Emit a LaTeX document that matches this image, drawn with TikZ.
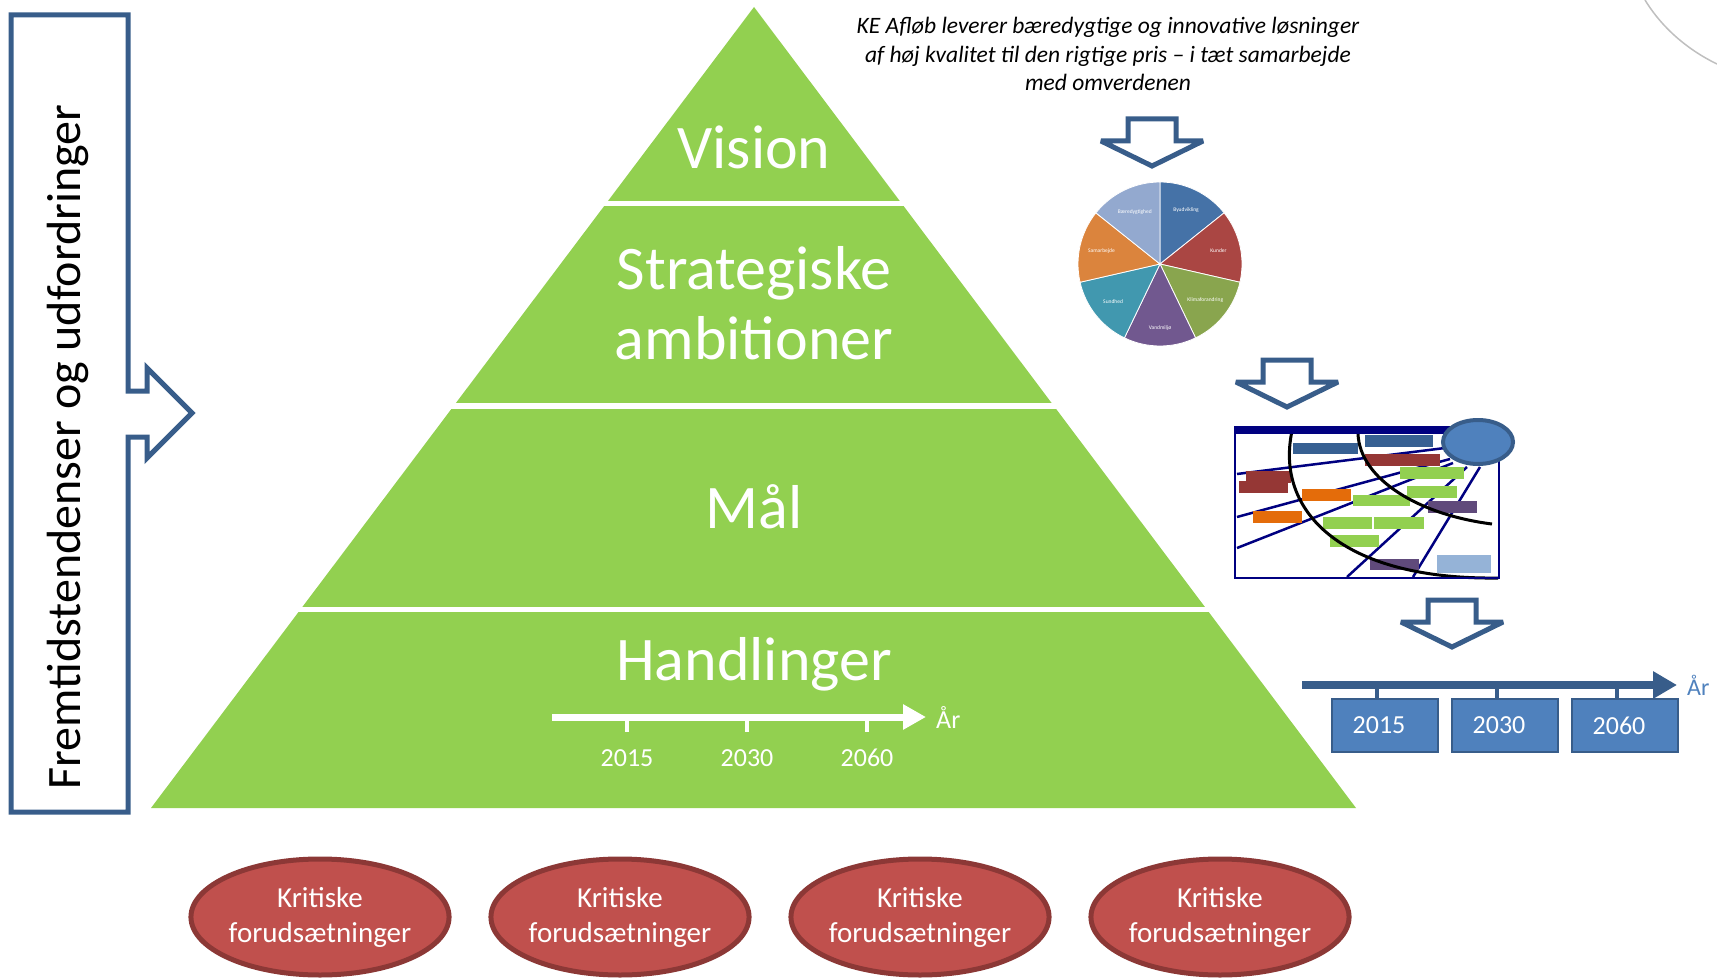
\documentclass[tikz,border=0pt]{standalone}
\usepackage{fontspec}
\setmainfont{Carlito}
\usetikzlibrary{arrows.meta,calc,positioning,shapes.geometric}

\definecolor{pyrgreen}{HTML}{92D050}
\definecolor{darkblue}{HTML}{385D8A}
\definecolor{accblue}{HTML}{4F81BD}
\definecolor{kritfill}{HTML}{C0504D}
\definecolor{kritline}{HTML}{8C3836}
\definecolor{plannavy}{HTML}{000080}
\definecolor{planblue}{HTML}{376092}
\definecolor{planred}{HTML}{953735}
\definecolor{planorange}{HTML}{E46C0A}
\definecolor{planpurple}{HTML}{604A7B}
\definecolor{planlight}{HTML}{95B3D7}
\definecolor{pieA}{HTML}{4572A7}
\definecolor{pieB}{HTML}{AA4643}
\definecolor{pieC}{HTML}{89A54E}
\definecolor{pieD}{HTML}{71588F}
\definecolor{pieE}{HTML}{4198AF}
\definecolor{pieF}{HTML}{DB843D}
\definecolor{pieG}{HTML}{93A9CF}

\tikzset{
  band/.style={text=white,inner sep=0pt,font=\fontsize{62}{70}\selectfont},
  yearw/.style={text=white,inner sep=0pt,font=\fontsize{26}{30}\selectfont},
  wline/.style={white,line width=7pt,-{Triangle[length=23pt,width=24pt]}},
  wtick/.style={white,line width=4pt},
  blockline/.style={darkblue,line width=5pt,line join=miter,miter limit=2,fill=white},
  downblock/.pic={\draw[blockline] (-24,0) -- (24,0) -- (24,22) -- (51,22) -- (0,47) -- (-51,22) -- (-24,22) -- cycle;},
  pieslice/.style={draw=white,line width=0.8pt},
  pielab/.style={text=white,inner sep=0pt,font=\fontsize{5.5}{6}\selectfont},
  baxis/.style={darkblue,line width=8pt,-{Triangle[length=24pt,width=26pt]}},
  stem/.style={darkblue,line width=4pt},
  yearbox/.style={draw=darkblue,fill=accblue,line width=2.5pt,text=white,minimum width=106pt,minimum height=53pt,inner sep=0pt,font=\fontsize{26}{30}\selectfont},
  krit/.style={ellipse,draw=kritline,fill=kritfill,line width=5pt,minimum width=250pt,minimum height=116pt,inner sep=0pt,text=white,align=center,font=\fontsize{29}{35}\selectfont},
  planline/.style={plannavy,line width=2.5pt},
  planarc/.style={black,line width=3pt}
}

\begin{document}
\begin{tikzpicture}[x=1pt,y=-1pt]
\useasboundingbox (0,0) rectangle (1717,979);

\draw[black!25,line width=1.5pt] (1645,0) .. controls (1662,28) and (1688,50) .. (1717,64);

\fill[pyrgreen] (754,7) -- (1356,808) -- (151,808) -- cycle;
\fill[white] (140,201) rectangle (1370,206);
\fill[white] (140,403) rectangle (1370,409);
\fill[white] (140,607) rectangle (1370,612);
\node[band,anchor=base] (vision) at (754,168) {Vision};
\node[band,align=center] (strat) at (754,303) {Strategiske\\ambitioner};
\node[band,anchor=base] (maal) at (754,528) {Mål};
\node[band,anchor=base] (handl) at (754,680) {Handlinger};

\coordinate (hstart) at (552,717);
\coordinate (hend) at (926,717);
\draw[wline] (hstart) -- (hend);
\node[yearw,right=10pt of hend] (haar) {År};
\draw[wtick] (627,717) -- ++(0,15);
\draw[wtick] (747,717) -- ++(0,15);
\draw[wtick] (867,717) -- ++(0,15);
\node[yearw] (h2015) at (627,758) {2015};
\node[yearw] (h2030) at (747,758) {2030};
\node[yearw] (h2060) at (867,758) {2060};

\draw[darkblue,line width=5pt,line join=miter] (11,15) -- (128,15) -- (128,391) -- (147,391) -- (147,368) -- (192,413) -- (147,458) -- (147,437) -- (128,437) -- (128,812) -- (11,812) -- cycle;
\node[rotate=90,inner sep=0pt,font=\fontsize{48}{52}\selectfont] (trend) at (68,447) {Fremtidstendenser og udfordringer};

\node[align=center,inner sep=0pt,font=\itshape\fontsize{23.5}{28.5}\selectfont] (mission) at (1108,54) {KE Afløb leverer bæredygtige og innovative løsninger\\af høj kvalitet til den rigtige pris -- i tæt samarbejde\\med omverdenen};

\pic at (1152,119) {downblock};
\pic at (1287,360) {downblock};
\pic at (1452,600) {downblock};

\coordinate (pie) at (1160,264);
\fill[pieA,pieslice] (pie) -- ++(-90:82) arc[start angle=-90,end angle=-38.57,radius=82] -- cycle;
\fill[pieB,pieslice] (pie) -- ++(-38.57:82) arc[start angle=-38.57,end angle=12.86,radius=82] -- cycle;
\fill[pieC,pieslice] (pie) -- ++(12.86:82) arc[start angle=12.86,end angle=64.29,radius=82] -- cycle;
\fill[pieD,pieslice] (pie) -- ++(64.29:82) arc[start angle=64.29,end angle=115.71,radius=82] -- cycle;
\fill[pieE,pieslice] (pie) -- ++(115.71:82) arc[start angle=115.71,end angle=167.14,radius=82] -- cycle;
\fill[pieF,pieslice] (pie) -- ++(167.14:82) arc[start angle=167.14,end angle=218.57,radius=82] -- cycle;
\fill[pieG,pieslice] (pie) -- ++(218.57:82) arc[start angle=218.57,end angle=270,radius=82] -- cycle;
\node[pielab] (lby) at ($(pie)+(-64.29:60)$) {Byudvikling};
\node[pielab] (lkunder) at ($(pie)+(-12.86:60)$) {Kunder};
\node[pielab] (lklima) at ($(pie)+(38.57:58)$) {Klimaforandring};
\node[pielab] (lvand) at ($(pie)+(90:64)$) {Vandmiljø};
\node[pielab] (lsund) at ($(pie)+(141.43:60)$) {Sundhed};
\node[pielab] (lsamarb) at ($(pie)+(192.86:60)$) {Samarbejde};
\node[pielab] (lbaered) at ($(pie)+(244.29:58)$) {Bæredygtighed};

\draw[planline] (1237,474) -- (1453,447);
\draw[planline] (1237,517) -- (1450,459);
\draw[planline] (1237,548) -- (1453,463);
\draw[planline] (1347,577) -- (1467,467);
\draw[planline] (1413,577) -- (1480,467);
\fill[planblue] (1293,443) rectangle (1358,454);
\fill[planblue] (1365,435) rectangle (1433,447);
\fill[planred] (1365,454) rectangle (1440,466);
\fill[planred] (1246,471) rectangle (1291,483);
\fill[planred] (1239,481) rectangle (1288,493);
\fill[pyrgreen] (1400,467) rectangle (1464,479);
\fill[pyrgreen] (1407,486) rectangle (1457,498);
\fill[planorange] (1302,489) rectangle (1351,501);
\fill[pyrgreen] (1353,495) rectangle (1410,506);
\fill[planpurple] (1428,501) rectangle (1477,513);
\fill[planorange] (1253,511) rectangle (1302,523);
\fill[pyrgreen] (1323,517) rectangle (1372,529);
\fill[pyrgreen] (1374,517) rectangle (1424,529);
\fill[pyrgreen] (1330,535) rectangle (1379,547);
\fill[planpurple] (1370,559) rectangle (1419,570);
\fill[planlight] (1437,555) rectangle (1491,573);
\draw[planarc] (1292,431) .. controls (1275,510) and (1340,580) .. (1498,578);
\draw[planarc] (1358,434) .. controls (1360,480) and (1420,515) .. (1492,524);
\fill[plannavy] (1235,427) rectangle (1470,434);
\draw[plannavy,line width=2.5pt] (1235,427) rectangle (1499,578);
\draw[darkblue,fill=accblue,line width=4pt] (1478,442) ellipse[x radius=35,y radius=22];

\coordinate (ax0) at (1302,685);
\coordinate (ax1) at (1677,685);
\draw[baxis] (ax0) -- (ax1);
\node[right=10pt of ax1,inner sep=0pt,text=accblue,font=\fontsize{24}{28}\selectfont] (raar) {År};
\node[yearbox] (y2015) at (1385,725.5) {\hspace*{-12pt}2015};
\node[yearbox] (y2030) at (1505,725.5) {\hspace*{-12pt}2030};
\node[yearbox] (y2060) at (1625,725.5) {\hspace*{-12pt}2060};
\coordinate (s1) at (1377,685);
\coordinate (s2) at (1497,685);
\coordinate (s3) at (1617,685);
\draw[stem] (s1) -- (s1 |- y2015.north);
\draw[stem] (s2) -- (s2 |- y2030.north);
\draw[stem] (s3) -- (s3 |- y2060.north);

\node[krit] (krit1) at (320,917) {Kritiske\\forudsætninger};
\node[krit] (krit2) at (620,917) {Kritiske\\forudsætninger};
\node[krit] (krit3) at (920,917) {Kritiske\\forudsætninger};
\node[krit] (krit4) at (1220,917) {Kritiske\\forudsætninger};
\end{tikzpicture}
\end{document}
